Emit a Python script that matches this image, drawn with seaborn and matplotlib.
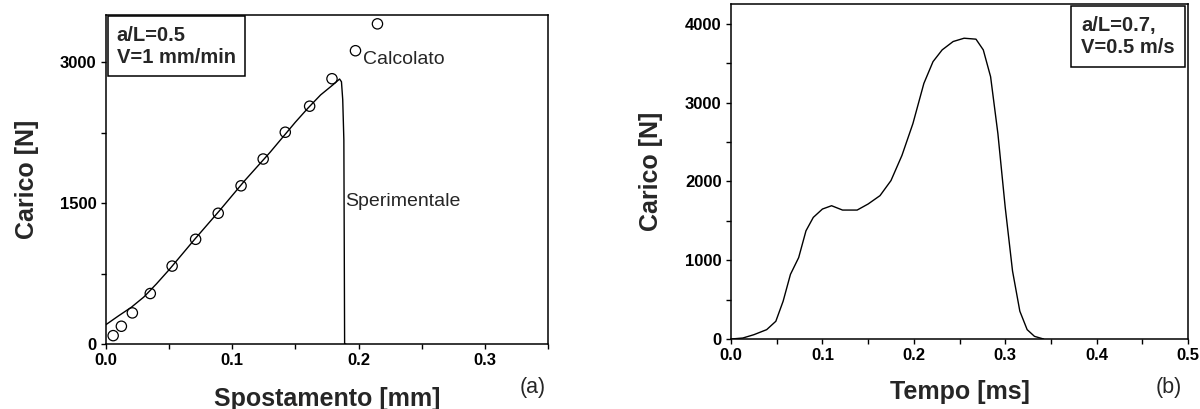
import matplotlib
matplotlib.use("Agg")
import matplotlib.pyplot as plt
from matplotlib.ticker import MultipleLocator, FormatStrFormatter
import seaborn as sb
import pandas as pd

# Panel (a): experimental curve and calculated points
sper_x = [0, 0.01, 0.02, 0.03, 0.04, 0.05, 0.06, 0.07, 0.08, 0.09, 0.10, 0.11, 0.12,
          0.13, 0.14, 0.15, 0.16, 0.17, 0.18, 0.185, 0.1865, 0.1875, 0.1884, 0.189, 0.19]
sper_y = [206, 300, 390, 500, 640, 790, 950, 1110, 1265, 1420, 1580, 1740, 1890,
          2040, 2200, 2360, 2510, 2650, 2760, 2819, 2790, 2600, 2170, 0, 0]
calc_x = [0.0057, 0.0122, 0.0209, 0.0351, 0.0524, 0.0710, 0.0889, 0.107, 0.1245,
          0.142, 0.1613, 0.179, 0.1976, 0.215]
calc_y = [89, 189, 331, 537, 829, 1114, 1391, 1683, 1968, 2253, 2530, 2822, 3120, 3406]

# Panel (b): load vs time
tempo = [0, 0.013, 0.025, 0.039, 0.049, 0.057, 0.065, 0.074, 0.082, 0.090, 0.100,
         0.110, 0.122, 0.138, 0.150, 0.163, 0.175, 0.187, 0.199, 0.211, 0.221, 0.231,
         0.243, 0.255, 0.268, 0.276, 0.284, 0.292, 0.300, 0.308, 0.316, 0.324, 0.332, 0.342]
carico = [0, 13, 55, 119, 225, 480, 820, 1033, 1373, 1543, 1649, 1691, 1636, 1636,
          1713, 1819, 2010, 2329, 2733, 3243, 3519, 3668, 3774, 3816, 3804, 3668,
          3328, 2605, 1670, 863, 353, 119, 34, 0]

sb.set_style("ticks")
plt.rcParams['font.family'] = ['Liberation Sans', 'DejaVu Sans']

fig = plt.figure(figsize=(12, 4.09), dpi=100)
ax1 = fig.add_axes([0.0883, 0.1589, 0.3683, 0.8044])
ax2 = fig.add_axes([0.6092, 0.1711, 0.3808, 0.8191])

df_a = pd.DataFrame({'x': sper_x, 'y': sper_y})
df_c = pd.DataFrame({'x': calc_x, 'y': calc_y})
df_b = pd.DataFrame({'t': tempo, 'f': carico})

sb.lineplot(data=df_a, x='x', y='y', sort=False, estimator=None, color='black',
            linewidth=1.0, ax=ax1)
sb.scatterplot(data=df_c, x='x', y='y', marker='o', s=55, facecolor='none',
               edgecolor='black', linewidth=0.9, ax=ax1)
sb.lineplot(data=df_b, x='t', y='f', sort=False, estimator=None, color='black',
            linewidth=1.0, ax=ax2)

ax1.set_xlim(0, 0.35)
ax1.set_ylim(0, 3500)
ax1.xaxis.set_major_locator(MultipleLocator(0.1))
ax1.xaxis.set_minor_locator(MultipleLocator(0.05))
ax1.yaxis.set_major_locator(MultipleLocator(1500))
ax1.yaxis.set_minor_locator(MultipleLocator(750))

ax2.set_xlim(0, 0.5)
ax2.set_ylim(0, 4250)
ax2.xaxis.set_major_locator(MultipleLocator(0.1))
ax2.xaxis.set_minor_locator(MultipleLocator(0.05))
ax2.yaxis.set_major_locator(MultipleLocator(1000))
ax2.yaxis.set_minor_locator(MultipleLocator(500))

for ax in (ax1, ax2):
    for s in ax.spines.values():
        s.set_visible(True)
        s.set_linewidth(1.1)
        s.set_color('black')
    ax.tick_params(which='both', direction='out', length=3.8, width=1, colors='black')
    ax.tick_params(which='major', labelsize=12, pad=3)
    ax.xaxis.set_major_formatter(FormatStrFormatter('%.1f'))
    for lab in ax.get_xticklabels() + ax.get_yticklabels():
        lab.set_fontweight('bold')

ax1.set_xlabel('Spostamento [mm]', fontsize=18, fontweight='bold', labelpad=13)
ax1.set_ylabel('Carico [N]', fontsize=18, fontweight='bold', labelpad=15)
ax2.set_xlabel('Tempo [ms]', fontsize=18, fontweight='bold', labelpad=12)
ax2.set_ylabel('Carico [N]', fontsize=18, fontweight='bold', labelpad=16)

ax1.text(0.024, 0.968, 'a/L=0.5\nV=1 mm/min', transform=ax1.transAxes, fontsize=14.5,
         fontweight='bold', va='top', ha='left', linespacing=1.2,
         bbox=dict(boxstyle='square,pad=0.45', facecolor='white', edgecolor='black', linewidth=1.1))
ax2.text(0.766, 0.965, 'a/L=0.7,\nV=0.5 m/s', transform=ax2.transAxes, fontsize=14.5,
         fontweight='bold', va='top', ha='left', linespacing=1.2,
         bbox=dict(boxstyle='square,pad=0.5', facecolor='white', edgecolor='black', linewidth=1.1))

ax1.text(0.2036, 3029, 'Calcolato', fontsize=14, va='center', ha='left')
ax1.text(0.1894, 1514, 'Sperimentale', fontsize=14, va='center', ha='left')

fig.text(0.4333, 0.039, '(a)', fontsize=15.5, ha='left', va='baseline')
fig.text(0.9633, 0.039, '(b)', fontsize=15.5, ha='left', va='baseline')

fig.savefig('out.png', dpi=100)
